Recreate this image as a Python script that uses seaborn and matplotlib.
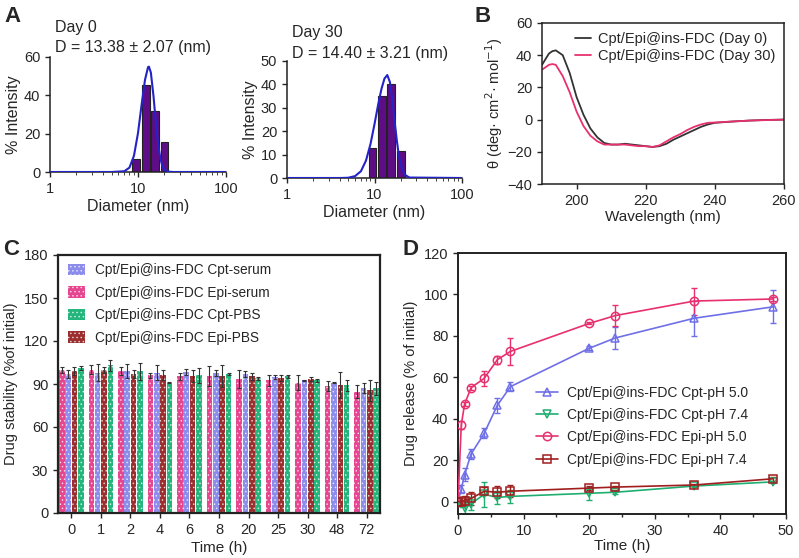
import numpy as np
import pandas as pd
import matplotlib
matplotlib.use('Agg')
import matplotlib.pyplot as plt
import seaborn as sns
from matplotlib.patches import Patch
from matplotlib.ticker import MultipleLocator, NullFormatter

# ---------------- Panel A data (DLS) ----------------
dls_bins = [9.5, 12.2, 15.6, 20.0]
day0_int = [7, 45.5, 32, 15.5]
day30_int = [13, 35, 40, 11.5]
fit0_x = [1, 5, 7, 8, 9, 10, 11, 12, 13, 13.3, 14, 15, 16, 17, 18, 19, 20, 22, 25, 100]
fit0_y = [0, 0, 0.4, 2.3, 8.5, 20.3, 35.3, 48, 54.7, 55, 51.9, 39.6, 25.2, 13.9, 6.7, 2.9, 1.2, 0.2, 0, 0]
fit30_x = [1, 3, 4, 5, 6, 7, 8, 9, 10, 11, 12, 13, 14, 15, 16, 17, 18, 19, 20, 22, 25, 100]
fit30_y = [0, 0, 0, 0.1, 0.8, 2.9, 7.5, 14.5, 23, 31.3, 38, 42.5, 44, 41, 33, 24, 16, 9.5, 5.5, 1.5, 0.2, 0]

# ---------------- Panel B data (CD) ----------------
wavelength = [190, 192, 193, 194, 196, 198, 200, 202, 204, 206, 208, 210, 212, 214, 216, 218,
              220, 222, 224, 226, 228, 230, 232, 234, 236, 238, 240, 245, 250, 255, 260]
cd_day0 = [34, 41, 42.5, 43, 40, 29, 14, 3, -5.5, -11, -14.5, -15.5, -15.5, -15, -15.5, -16,
           -16.5, -17, -16.5, -15, -12.5, -10.5, -8.5, -6.5, -4.5, -3, -2, -1.2, -0.6, -0.2, 0]
cd_day30 = [31, 34, 34.5, 34, 27, 17, 5, -4, -10, -13.5, -15.5, -15.5, -15.5, -15.5, -16, -16.5,
            -16.5, -17, -16, -13.5, -11, -9, -6.5, -4.5, -3, -2, -1.8, -1.2, -0.6, -0.3, 0]

# ---------------- Panel C data (stability) ----------------
times_c = ['0', '1', '2', '4', '6', '8', '20', '25', '30', '48', '72']
epi_serum = [100, 100, 99, 96, 95.5, 95.5, 93.5, 92.5, 91, 88.5, 84.5]
epi_serum_err = [2, 3, 3, 1.5, 2.5, 7, 6, 4, 5, 3.5, 4.5]
cpt_serum = [97, 98, 99, 98, 98.5, 97.5, 97, 95, 92.5, 91, 87.5]
cpt_serum_err = [3, 6, 5, 5, 2, 2, 2, 1.5, 0.5, 0.5, 3.5]
epi_pbs = [99, 100, 97, 96.5, 95.5, 95.5, 95.5, 94, 93.3, 89.5, 85.5]
epi_pbs_err = [3, 2, 3, 3.5, 4, 7.5, 2.5, 2, 1.5, 9, 7.5]
cpt_pbs = [101, 103, 99, 91, 96, 97, 94, 95.5, 92.7, 89, 87]
cpt_pbs_err = [1.5, 4, 6, 0.3, 5, 0.5, 1, 1, 1, 4, 4.5]

# ---------------- Panel D data (release) ----------------
times_d = [0, 0.5, 1, 2, 4, 6, 8, 20, 24, 36, 48]
cpt_ph50 = [0, 6, 13, 23, 33, 46.5, 55.5, 74, 79, 88.5, 94]
cpt_ph50_err = [0, 2, 3, 2.5, 2.5, 3.5, 2, 1, 5.3, 8.5, 8]
cpt_ph74 = [0, -1, -3, -1, 3.5, 2, 2.5, 4, 4.5, 7.5, 9.5]
cpt_ph74_err = [0, 1, 3, 3, 6, 3, 3, 3, 1, 0.5, 0.5]
epi_ph50 = [0, 37, 47, 55, 59.5, 68.5, 72.5, 86, 89.8, 96.8, 97.8]
epi_ph50_err = [0, 2, 1, 1, 3.5, 2, 6.5, 0.5, 5, 6.5, 1]
epi_ph74 = [0, 0, 0.5, 1.5, 5, 4.5, 5, 6.5, 7, 8, 11]
epi_ph74_err = [0, 0.5, 2, 3, 2, 3, 3, 1, 0.5, 0.5, 1]

# ---------------- style ----------------
sns.set_style('ticks')
plt.rcParams['font.family'] = ['Liberation Sans', 'DejaVu Sans']
plt.rcParams['font.size'] = 10
plt.rcParams['xtick.labelsize'] = 10.5
plt.rcParams['ytick.labelsize'] = 10.5
plt.rcParams['axes.labelsize'] = 11
plt.rcParams['hatch.linewidth'] = 0.6
plt.rcParams['axes.linewidth'] = 1.1
plt.rcParams['axes.edgecolor'] = '#222222'

fig = plt.figure(figsize=(7.99, 5.58), dpi=100)

W, H = 799.0, 558.0
def add_axes(l, r, t, b):
    return fig.add_axes([l / W, 1 - b / H, (r - l) / W, (b - t) / H])

bar_col = '#5f0d86'
fit_col = '#2323c8'

def dls_panel(ax, intens, fx, fy, ymax, ystep, title1, title2, px_h, base2, base1):
    lefts = [c * 10 ** -0.045 for c in dls_bins]
    widths = [c * (10 ** 0.045 - 10 ** -0.045) for c in dls_bins]
    ax.bar(lefts, intens, width=widths, align='edge', color=bar_col,
           edgecolor='#222222', linewidth=0.8, zorder=2)
    sns.lineplot(x=fx, y=fy, ax=ax, color=fit_col, linewidth=1.5, zorder=3, sort=False)
    ax.set_xscale('log')
    ax.set_xlim(1, 100)
    ax.set_ylim(0, ymax)
    ax.set_yticks(np.arange(0, ymax + 1, ystep))
    ax.set_xticks([1, 10, 100])
    ax.set_xticklabels(['1', '10', '100'])
    ax.xaxis.set_minor_formatter(NullFormatter())
    ax.tick_params(which='minor', length=2)
    ax.tick_params(which='major', length=3.5, width=1)
    sns.despine(ax=ax)
    ax.set_xlabel('Diameter (nm)', fontsize=11.5, labelpad=2)
    ax.set_ylabel('% Intensity', fontsize=11.5, labelpad=2)
    ax.text(0.03, 1.0 + base2 / px_h, title2, transform=ax.transAxes, fontsize=11.5,
            va='baseline', ha='left')
    ax.text(0.03, 1.0 + base1 / px_h, title1, transform=ax.transAxes, fontsize=11.5,
            va='baseline', ha='left')

axA1 = add_axes(50, 226, 57, 172)
dls_panel(axA1, day0_int, fit0_x, fit0_y, 60, 20, 'Day 0', 'D = 13.38 \u00b1 2.07 (nm)',
          115.0, 5, 25)
axA2 = add_axes(287, 462, 61, 178)
dls_panel(axA2, day30_int, fit30_x, fit30_y, 50, 10, 'Day 30', 'D = 14.40 \u00b1 3.21 (nm)',
          117.0, 3, 24)

# ---------------- Panel B ----------------
axB = add_axes(542, 784, 23, 184)
cd_df = pd.DataFrame({'wl': wavelength * 2,
                      'theta': cd_day0 + cd_day30,
                      'sample': ['Cpt/Epi@ins-FDC (Day 0)'] * len(wavelength) +
                                ['Cpt/Epi@ins-FDC (Day 30)'] * len(wavelength)})
sns.lineplot(data=cd_df, x='wl', y='theta', hue='sample', ax=axB,
             palette=['#333333', '#e8306e'], linewidth=1.3)
axB.set_xlim(190, 260)
axB.set_ylim(-40, 60)
axB.set_xticks([200, 220, 240, 260])
axB.set_yticks([-40, -20, 0, 20, 40, 60])
axB.tick_params(length=3.5, width=1)
axB.set_xlabel('Wavelength (nm)', fontsize=11, labelpad=2)
axB.set_ylabel('\u03b8 (deg\u00b7 cm$^{2}$\u00b7 mol$^{-1}$)', fontsize=10.5, labelpad=2)
axB.legend(loc='upper right', frameon=False, fontsize=10.5, handlelength=1.1,
           handletextpad=0.5, borderaxespad=0.2, labelspacing=0.2)

# ---------------- Panel C ----------------
axC = add_axes(58, 380, 255, 513)
labels_c = ['Cpt/Epi@ins-FDC Epi-serum', 'Cpt/Epi@ins-FDC Cpt-serum',
            'Cpt/Epi@ins-FDC Epi-PBS', 'Cpt/Epi@ins-FDC Cpt-PBS']
vals_c = [epi_serum, cpt_serum, epi_pbs, cpt_pbs]
errs_c = [epi_serum_err, cpt_serum_err, epi_pbs_err, cpt_pbs_err]
cols_c = ['#e6458f', '#8c8cec', '#9b2f2f', '#24b57c']
rows = []
for lab, v in zip(labels_c, vals_c):
    for t, y in zip(times_c, v):
        rows.append({'time': t, 'value': y, 'series': lab})
df_c = pd.DataFrame(rows)
sns.barplot(data=df_c, x='time', y='value', hue='series', hue_order=labels_c,
            order=times_c, palette=cols_c, saturation=1, errorbar=None,
            width=0.86, gap=0.12, ax=axC, legend=False, zorder=2)
hatch_col = '#ffffffb0'
for cont, err in zip(axC.containers, errs_c):
    xs, ys = [], []
    for bar in cont:
        xs.append(bar.get_x() + bar.get_width() / 2)
        ys.append(bar.get_height())
        bar.set_hatch('....')
        bar.set_edgecolor(hatch_col)
        bar.set_linewidth(0)
    axC.errorbar(xs, ys, yerr=err, fmt='none', ecolor='#333333', elinewidth=0.8,
                 capsize=1.2, capthick=0.8, zorder=3)
axC.set_xlim(-0.45, len(times_c) - 0.55)
axC.set_ylim(0, 180)
axC.set_yticks(np.arange(0, 181, 30))
axC.tick_params(length=3.5, width=1)
for s in axC.spines.values():
    s.set_linewidth(1.6)
axC.set_xlabel('Time (h)', fontsize=11, labelpad=3)
axC.set_ylabel('Drug stability (%of initial)', fontsize=10.5, labelpad=4)
leg_order = [1, 0, 3, 2]
handles = [Patch(facecolor=cols_c[i], edgecolor=hatch_col, hatch='....', linewidth=0)
           for i in leg_order]
axC.legend(handles, [labels_c[i] for i in leg_order], loc='upper left', frameon=False,
           fontsize=9.8, handlelength=1.25, handleheight=0.9, handletextpad=0.8,
           labelspacing=0.62, borderaxespad=0.3, bbox_to_anchor=(0.0, 1.005))

# ---------------- Panel D ----------------
axD = add_axes(458, 786, 253, 514)
series_d = [('Cpt/Epi@ins-FDC Cpt-pH 5.0', cpt_ph50, cpt_ph50_err, '#6f6fe8', '^'),
            ('Cpt/Epi@ins-FDC Cpt-pH 7.4', cpt_ph74, cpt_ph74_err, '#1fae70', 'v'),
            ('Cpt/Epi@ins-FDC Epi-pH 5.0', epi_ph50, epi_ph50_err, '#e8306e', 'o'),
            ('Cpt/Epi@ins-FDC Epi-pH 7.4', epi_ph74, epi_ph74_err, '#a01e1e', 's')]
for lab, v, e, c, m in series_d:
    axD.errorbar(times_d, v, yerr=e, fmt='none', ecolor=c, elinewidth=1,
                 capsize=2.5, capthick=1, zorder=2)
    sns.lineplot(x=times_d, y=v, ax=axD, color=c, marker=m, markersize=6,
                 markerfacecolor='none', markeredgecolor=c, markeredgewidth=1.1,
                 linewidth=1.2, label=lab, zorder=3)
axD.set_xlim(0, 50)
axD.set_ylim(-6, 120)
axD.set_yticks(np.arange(0, 121, 20))
axD.set_xticks(np.arange(0, 51, 10))
axD.xaxis.set_minor_locator(MultipleLocator(5))
axD.tick_params(which='major', length=3.5, width=1)
axD.tick_params(which='minor', length=2, width=1)
for s in axD.spines.values():
    s.set_linewidth(1.4)
axD.set_xlabel('Time (h)', fontsize=11, labelpad=1)
axD.set_ylabel('Drug release (% of initial)', fontsize=10.5, labelpad=4)
axD.legend(loc='upper left', bbox_to_anchor=(0.2, 0.54), frameon=False, fontsize=10,
           handlelength=1.6, handletextpad=0.6, labelspacing=0.6)

# ---------------- panel letters ----------------
for txt, x, y in [('A', 4, 6), ('B', 474, 6), ('C', 3, 239), ('D', 402, 239)]:
    fig.text(x / W, 1 - y / H, txt, fontsize=16, fontweight='bold', va='top', ha='left')

fig.savefig('out.png', dpi=100)
